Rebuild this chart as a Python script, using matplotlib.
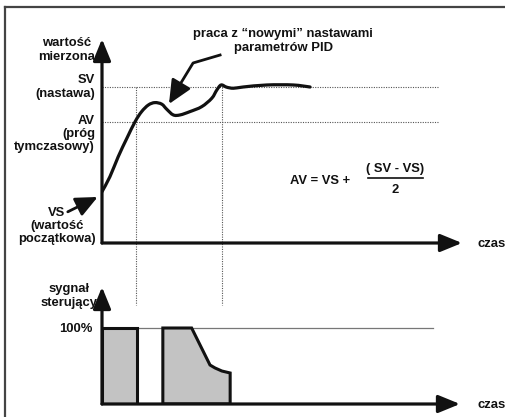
import numpy as np
import matplotlib
matplotlib.use('Agg')
import matplotlib.pyplot as plt
from matplotlib.lines import Line2D
from matplotlib.path import Path
from matplotlib.patches import PathPatch

plt.rcParams['font.family'] = ['Liberation Sans', 'DejaVu Sans']
plt.rcParams['font.weight'] = 'bold'

# dane: czas (0..100) i wartość mierzona (SV = 100)
SV = 100.0
AV = 77.6
VS = 32.7
t_curve = [0.0, 2.2, 4.5, 6.9, 9.2, 11.0, 12.9, 14.7, 16.6, 18.0, 19.8, 21.7,
           24.4, 27.7, 30.5, 31.9, 33.1, 34.6, 36.5, 39.2, 45.8, 53.1, 57.8]
v_curve = [32.9, 42.5, 55.3, 67.1, 77.8, 84.2, 88.5, 90.0, 89.0, 85.7, 82.1, 82.1,
           84.2, 87.4, 92.8, 98.1, 101.3, 99.9, 99.2, 100.0, 101.3, 101.3, 100.0]
t_guides = [9.4, 33.2]          # pionowe linie pomocnicze
t_ref_end = 93.3                # koniec poziomych linii SV / AV

# sygnał sterujący [%]
t_pulse1 = [0.0, 0.0, 9.6, 9.6]
s_pulse1 = [0, 100, 100, 0]
t_pulse2 = [16.9, 16.9, 24.9, 30.0, 31.4, 33.3, 35.6, 35.6]
s_pulse2 = [0, 100, 100, 51.3, 47.4, 43.4, 40.8, 0]
t_100_end = 92.0

W, H = 505, 417
fig = plt.figure(figsize=(W / 100, H / 100), dpi=100)

def px(x, y):
    return x / W, 1 - y / H

def smooth_path(xs, ys):
    # gładka krzywa przez punkty (Catmull-Rom zapisany jako krzywe Beziera)
    p = np.column_stack([xs, ys])
    p = np.vstack([p[0], p, p[-1]])
    verts, codes = [p[1]], [Path.MOVETO]
    for i in range(1, len(p) - 2):
        c1 = p[i] + (p[i + 1] - p[i - 1]) / 6
        c2 = p[i + 1] - (p[i + 2] - p[i]) / 6
        verts += [c1, c2, p[i + 1]]
        codes += [Path.CURVE4] * 3
    return Path(verts, codes)

# ramka (tylko góra i lewa strona)
fig.add_artist(Line2D([5 / W, 1], [1 - 7 / H, 1 - 7 / H], color='#444444', lw=1.6))
fig.add_artist(Line2D([5 / W, 5 / W], [0, 1 - 7 / H], color='#444444', lw=1.6))

# ---- wykres górny ----
ax1 = fig.add_axes([102 / W, (H - 243) / H, 360 / W, 204 / H])
ax1.set_xlim(0, 100)
ax1.set_ylim(0, 204 / 1.56)
ax1.axis('off')

dot = dict(color='#555555', lw=0.8, linestyle=(0, (1, 1.2)))
ax1.plot([0, t_ref_end], [SV, SV], **dot)
ax1.plot([0, t_ref_end], [AV, AV], **dot)
for tg in t_guides:
    ax1.plot([tg, tg], [SV, -39.7], clip_on=False, **dot)

ax1.add_patch(PathPatch(smooth_path(t_curve, v_curve), facecolor='none',
                        edgecolor='#111111', lw=2.3, capstyle='round', zorder=3))

arr = dict(arrowstyle='-|>,head_length=1.1,head_width=0.45', color='#111111',
           lw=2.3, shrinkA=0, shrinkB=0, mutation_scale=12)
ax1.annotate('', xy=(0, 1), xytext=(0, 0), xycoords='axes fraction', arrowprops=arr)
ax1.annotate('', xy=(1, 0), xytext=(0, 0), xycoords='axes fraction', arrowprops=arr)

# ---- wykres dolny ----
ax2 = fig.add_axes([102 / W, (H - 404) / H, 358 / W, 117 / H])
ax2.set_xlim(0, 358 / 3.6)
ax2.set_ylim(0, 117 / 0.76)
ax2.axis('off')
ax2.plot([0, t_100_end], [100, 100], color='#777777', lw=0.9, zorder=0.5)
for tp, sp in [(t_pulse1, s_pulse1), (t_pulse2, s_pulse2)]:
    ax2.fill(tp, sp, facecolor='#c3c3c3', edgecolor='#111111', lw=2.2,
             joinstyle='miter', zorder=2)
ax2.annotate('', xy=(0, 1), xytext=(0, 0), xycoords='axes fraction', arrowprops=arr)
ax2.annotate('', xy=(1, 0), xytext=(0, 0), xycoords='axes fraction', arrowprops=arr)

# ---- opisy ----
fs = 9.4
def txt(x, y, s, ha='center', **kw):
    fig.text(*px(x, y), s, ha=ha, va='center', fontsize=fs, fontweight='bold',
             color='#111111', linespacing=1.12, **kw)

txt(67, 50, 'wartość\nmierzona')
txt(95, 87, 'SV\n(nastawa)', ha='right')
txt(95, 134, 'AV\n(próg\ntymczasowy)', ha='right')
txt(57, 226, 'VS\n(wartość\npoczątkowa)')
txt(478, 244, 'czas', ha='left')
txt(477, 405, 'czas', ha='left')
txt(69, 296, 'sygnał\nsterujący')
txt(93, 329, '100%', ha='right')
txt(283, 41, 'praca z \u201cnowymi\u201d nastawami\nparametrów PID')

# wzór
txt(320, 181, 'AV = VS +')
txt(395, 169, '( SV - VS)')
txt(395, 190, '2')
fig.add_artist(Line2D([368 / W, 423 / W], [1 - 178 / H, 1 - 178 / H], color='#111111', lw=1.2))

# strzałki opisów
ax1.annotate('', xy=(-1.2, 29.5), xytext=(-9.5, 20.0), xycoords='data',
             annotation_clip=False,
             arrowprops=dict(arrowstyle='-|>,head_length=1.1,head_width=0.5',
                             color='#111111', lw=2.0, shrinkA=0, shrinkB=0,
                             mutation_scale=12))
ax1.plot([32.8, 25.3, 21.5], [120.5, 115.4, 101.0], color='#111111', lw=2.0,
         clip_on=False, solid_joinstyle='round')
ax1.annotate('', xy=(18.6, 89.1), xytext=(21.8, 101.5), xycoords='data',
             arrowprops=dict(arrowstyle='-|>,head_length=1.2,head_width=0.55',
                             color='#111111', lw=2.0, shrinkA=0, shrinkB=0,
                             mutation_scale=12))

fig.savefig('out.png', dpi=100)
